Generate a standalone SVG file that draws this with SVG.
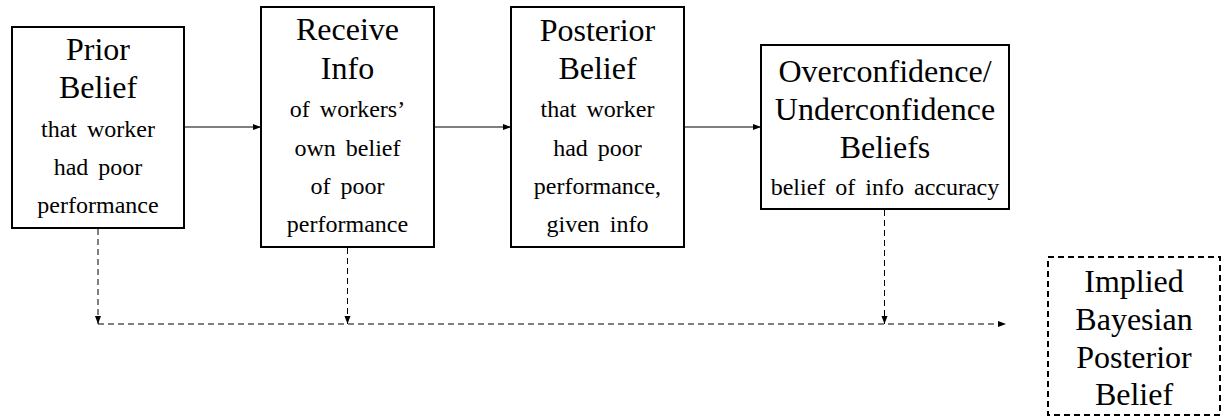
<svg xmlns="http://www.w3.org/2000/svg" width="1221" height="419" viewBox="0 0 1221 419">
<style>
.box{fill:#fff;stroke:#000;stroke-width:2}
.dbox{fill:#fff;stroke:#000;stroke-width:2;stroke-dasharray:6 4}
.t{font-family:'Liberation Serif','DejaVu Serif','Noto Serif','Tinos','Times New Roman',Times,'Nimbus Roman','FreeSerif',serif;font-size:32px;fill:#000;text-anchor:middle}
.s{font-family:'Liberation Serif','DejaVu Serif','Noto Serif','Tinos','Times New Roman',Times,'Nimbus Roman','FreeSerif',serif;font-size:24px;fill:#000;text-anchor:middle;word-spacing:4px}
.a{fill:none;stroke:#000;stroke-width:1.2}
.d{fill:none;stroke:#000;stroke-width:1;stroke-dasharray:6 4}
</style>
<defs>
<marker id="ah" markerUnits="userSpaceOnUse" markerWidth="10" markerHeight="8" refX="8" refY="4" orient="auto" viewBox="0 0 10 8">
<path d="M0,1 L8,4 L0,7 z" fill="#000"/>
</marker>
</defs>
<g id="connectors">
<line class="a" x1="184" y1="127" x2="261" y2="127" marker-end="url(#ah)"/>
<line class="a" x1="434" y1="127" x2="511" y2="127" marker-end="url(#ah)"/>
<line class="a" x1="684" y1="127" x2="761" y2="127" marker-end="url(#ah)"/>
<line class="d" x1="98" y1="229" x2="98" y2="324" marker-end="url(#ah)"/>
<line class="d" x1="347.5" y1="248" x2="347.5" y2="324" marker-end="url(#ah)"/>
<line class="d" x1="884.5" y1="210" x2="884.5" y2="324" marker-end="url(#ah)"/>
<line class="d" x1="98" y1="324" x2="1006" y2="324" marker-end="url(#ah)"/>
</g>
<g id="prior">
<rect class="box" x="12" y="27" width="172" height="201"/>
<text class="t" x="98" y="60">Prior</text>
<text class="t" x="98" y="98">Belief</text>
<text class="s" x="98" y="137">that worker</text>
<text class="s" x="98" y="175">had poor</text>
<text class="s" x="98" y="213">performance</text>
</g>
<g id="receive">
<rect class="box" x="261" y="7" width="173" height="240"/>
<text class="t" x="347.5" y="40">Receive</text>
<text class="t" x="347.5" y="79">Info</text>
<text class="s" x="347.5" y="117">of workers’</text>
<text class="s" x="347.5" y="156">own belief</text>
<text class="s" x="347.5" y="194">of poor</text>
<text class="s" x="347.5" y="232">performance</text>
</g>
<g id="posterior">
<rect class="box" x="511" y="7" width="173" height="240"/>
<text class="t" x="597.5" y="41">Posterior</text>
<text class="t" x="597.5" y="79">Belief</text>
<text class="s" x="597.5" y="117">that worker</text>
<text class="s" x="597.5" y="156">had poor</text>
<text class="s" x="597.5" y="194">performance,</text>
<text class="s" x="597.5" y="232">given info</text>
</g>
<g id="confidence">
<rect class="box" x="761" y="45" width="248" height="164"/>
<text class="t" x="885" y="82">Overconfidence/</text>
<text class="t" x="885" y="120">Underconfidence</text>
<text class="t" x="885" y="158">Beliefs</text>
<text class="s" x="885" y="195">belief of info accuracy</text>
</g>
<g id="bayesian">
<rect class="dbox" x="1048" y="257" width="172" height="158"/>
<text class="t" x="1134" y="292">Implied</text>
<text class="t" x="1134" y="330">Bayesian</text>
<text class="t" x="1134" y="368">Posterior</text>
<text class="t" x="1134" y="405">Belief</text>
</g>
</svg>
